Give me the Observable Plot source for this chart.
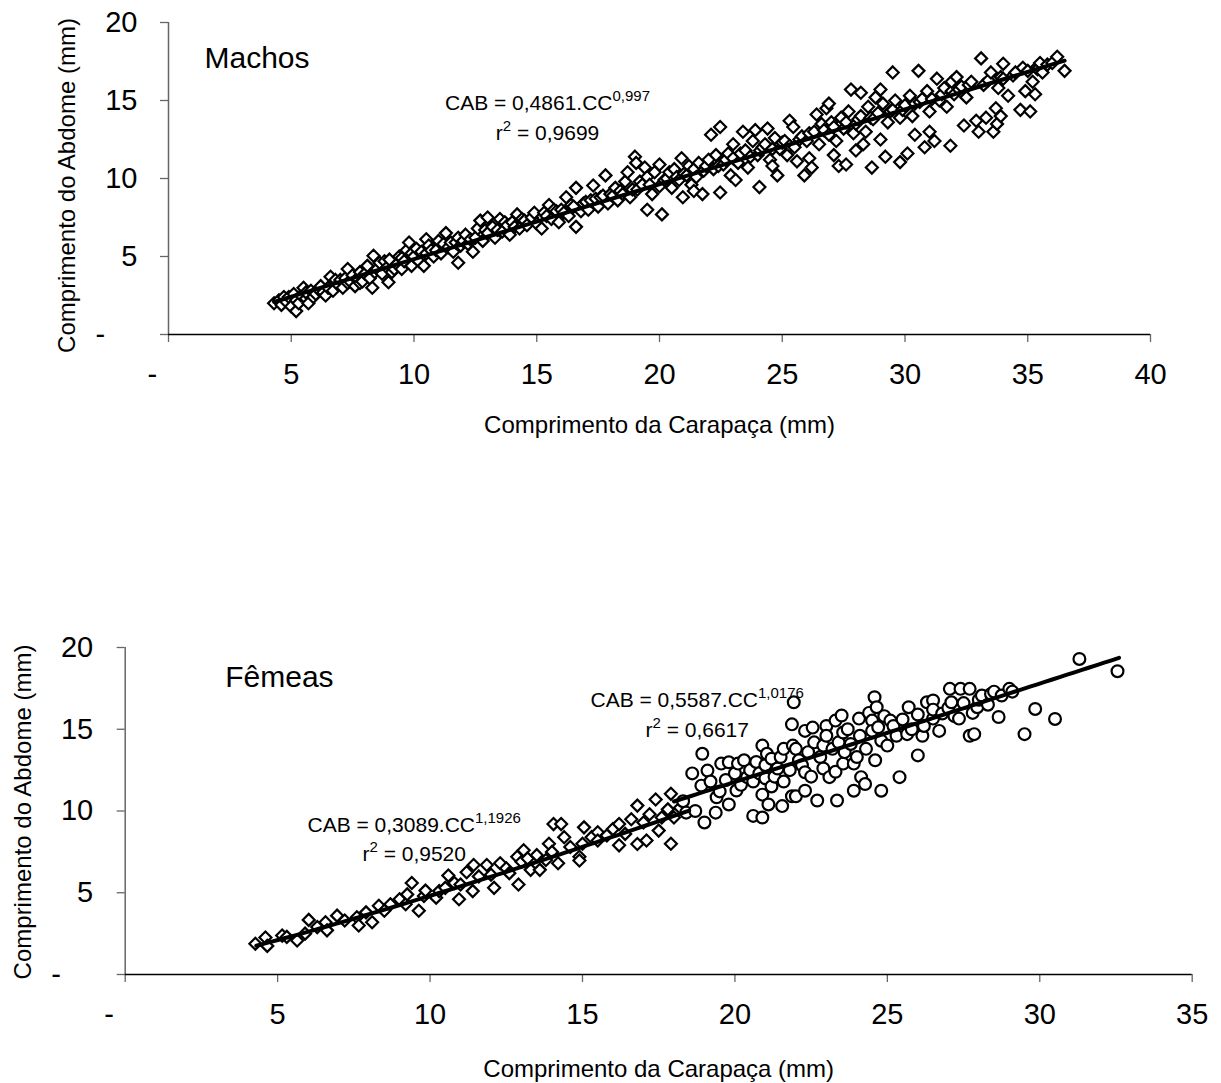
<!DOCTYPE html>
<html>
<head>
<meta charset="utf-8">
<script src="https://cdn.jsdelivr.net/npm/d3@7"></script>
<script src="https://cdn.jsdelivr.net/npm/@observablehq/plot@0.6"></script>
<style>
  html, body { margin: 0; padding: 0; background: #fff; }
  #machos, #femeas { display: block; line-height: 0; }
</style>
</head>
<body>
<div id="machos"></div>
<div id="femeas"></div>
<script>
// ---------- data (CC = comprimento da carapaça, CAB = comprimento do abdome), mm ----------
const machos = [
  [4.3,2.0],[4.5,2.2],[4.6,1.9],[4.7,2.4],[4.8,2.1],[4.9,2.4],[5.0,1.8],[5.1,2.6],[5.2,1.5],[5.2,2.2],[5.3,2.0],[5.4,2.5],[5.5,3.0],[5.6,2.3],[5.6,2.7],[5.7,2.0],[5.8,2.8],[5.9,2.4],[6.0,2.6],[6.1,2.9],[6.2,3.1],[6.3,2.7],[6.4,2.5],
  [6.5,3.0],[6.6,3.7],[6.7,2.8],[6.8,3.5],[6.9,3.2],[7.0,3.5],[7.1,3.0],[7.2,3.6],[7.3,4.2],[7.3,3.3],[7.4,3.4],[7.5,3.8],[7.6,3.1],[7.7,3.6],[7.8,4.0],[7.8,3.3],[7.9,3.4],[8.0,3.9],[8.1,4.4],
  [8.2,3.6],[8.3,3.0],[8.35,5.05],[8.4,4.0],[8.5,4.2],[8.6,4.6],[8.7,3.9],[8.8,4.7],[8.9,4.3],[8.96,3.35],[9.0,4.8],[9.1,4.0],[9.2,4.2],[9.3,4.5],[9.4,5.0],[9.5,4.2],[9.5,4.9],[9.6,4.7],[9.7,5.4],[9.8,5.9],[9.9,4.4],[9.9,5.2],[10.0,5.0],
  [10.1,5.5],[10.2,4.7],[10.3,5.3],[10.4,4.4],[10.5,6.1],[10.5,5.2],[10.6,5.7],[10.7,5.4],[10.8,5.0],[10.9,5.4],[11.0,6.0],[11.1,5.2],[11.2,5.8],[11.3,6.5],[11.4,5.6],[11.5,5.9],[11.6,5.3],[11.7,5.9],[11.8,4.6],[11.8,6.2],[11.9,5.7],[12.0,6.0],
  [12.1,6.4],[12.2,5.8],[12.3,6.1],[12.4,5.3],[12.5,6.2],[12.6,6.8],[12.7,7.3],[12.8,6.0],[12.9,6.7],[13.0,7.5],[13.0,6.5],[13.2,6.9],[13.3,6.2],[13.4,6.7],[13.5,7.4],[13.6,6.6],[13.7,7.2],[13.8,7.0],[13.9,6.4],[14.0,7.2],
  [14.1,6.9],[14.2,7.7],[14.3,6.8],[14.4,7.4],[14.5,7.3],[14.6,7.0],[14.8,7.5],[14.9,7.8],[15.0,7.1],[15.2,6.8],[15.3,7.8],[15.4,7.6],[15.5,8.3],[15.6,7.4],[15.7,8.0],[15.8,7.9],[15.9,7.2],[16.0,8.0],
  [16.1,7.8],[16.2,8.8],[16.3,7.6],[16.4,8.3],[16.5,8.2],[16.6,9.4],[16.6,6.9],[16.8,7.9],[16.9,8.4],[17.0,8.5],[17.1,8.0],[17.2,8.6],[17.3,9.55],[17.4,8.7],[17.5,8.2],[17.6,8.8],[17.7,8.9],[17.8,10.2],[17.9,8.4],[18.0,9.0],
  [18.1,8.9],[18.2,9.4],[18.3,8.6],[18.4,9.2],[18.5,9.0],[18.6,9.8],[18.7,10.4],[18.8,8.8],[18.9,9.3],[19.0,11.4],[19.05,11.0],[19.1,9.3],[19.2,9.8],[19.3,9.6],[19.4,10.7],[19.5,8.0],[19.5,10.1],[19.6,9.6],[19.7,9.0],[19.8,10.4],[20.0,10.9],[20.0,9.5],[20.1,7.7],
  [20.2,9.9],[20.3,10.0],[20.4,10.4],[20.5,9.4],[20.6,10.6],[20.7,10.1],[20.8,9.9],[20.9,11.3],[20.95,8.8],[21.0,10.3],[21.1,10.2],[21.2,10.8],[21.3,9.6],[21.4,10.6],[21.4,9.2],[21.5,10.1],[21.6,11.0],[21.75,9.0],[21.8,10.5],[21.9,10.8],[22.0,11.2],[22.1,12.8],[22.2,10.6],
  [22.3,11.5],[22.4,10.8],[22.47,13.3],[22.47,9.1],[22.6,10.9],[22.7,11.2],[22.8,11.6],[22.9,10.2],[23.0,12.2],[23.0,11.3],[23.1,9.9],[23.2,11.0],[23.3,11.6],[23.4,13.0],[23.5,11.8],[23.6,10.7],[23.7,11.4],[23.8,12.4],[23.9,13.1],[24.0,11.5],[24.07,9.45],[24.1,11.8],[24.2,12.0],
  [24.3,12.2],[24.4,13.2],[24.5,11.2],[24.6,11.9],[24.6,10.8],[24.7,12.6],[24.8,10.2],[24.9,11.9],[25.0,12.3],[25.1,12.4],[25.2,11.5],[25.3,12.1],[25.3,13.7],[25.45,13.3],[25.5,12.0],[25.6,11.1],[25.7,12.5],[25.8,12.7],[25.9,10.2],[26.0,12.4],
  [26.1,12.9],[26.1,11.3],[26.2,10.7],[26.3,13.0],[26.4,14.1],[26.5,12.2],[26.6,13.5],[26.7,13.1],[26.8,14.5],[26.9,12.8],[26.9,14.8],[27.0,13.6],[27.1,13.3],[27.1,11.5],[27.2,12.4],[27.3,10.8],[27.4,13.9],[27.5,13.2],[27.6,10.9],[27.6,13.6],[27.7,14.3],[27.8,15.7],[27.9,12.9],[28.0,11.8],[28.0,13.5],
  [28.1,13.8],[28.2,15.5],[28.2,14.0],[28.3,12.2],[28.4,13.0],[28.5,14.6],[28.6,13.9],[28.65,10.7],[28.7,13.8],[28.8,15.2],[28.9,14.2],[29.0,12.5],[29.0,15.7],[29.1,14.8],[29.2,11.4],[29.3,13.6],[29.4,14.3],[29.5,16.8],[29.5,14.4],[29.6,15.0],[29.8,11.05],[29.8,13.9],[29.9,14.4],[30.0,14.7],
  [30.1,11.6],[30.2,15.3],[30.3,14.0],[30.4,14.8],[30.4,12.8],[30.55,16.9],[30.6,14.9],[30.7,15.1],[30.8,12.0],[30.9,15.6],[31.0,14.3],[31.0,13.0],[31.1,15.1],[31.2,12.4],[31.3,16.4],[31.4,15.0],[31.5,15.4],[31.6,15.8],[31.7,14.6],[31.85,12.1],[31.9,15.6],[31.9,16.2],[32.0,15.4],[32.1,16.5],
  [32.2,15.7],[32.3,15.9],[32.4,13.4],[32.5,15.2],[32.6,16.0],[32.7,16.2],[32.9,13.7],[33.0,13.0],[33.1,17.7],[33.2,16.0],[33.3,13.9],[33.4,16.3],[33.5,16.8],[33.6,13.0],[33.7,14.5],[33.75,13.5],[33.8,15.8],[33.9,16.5],[33.9,14.0],[34.0,17.35],[34.0,16.4],
  [34.2,15.3],[34.4,16.6],[34.5,16.8],[34.7,14.4],[34.8,17.1],[34.9,15.6],[35.0,16.9],[35.1,14.3],[35.2,16.2],[35.3,15.4],[35.35,17.1],[35.4,17.0],[35.5,17.4],[35.6,16.8],[35.8,17.3],[36.0,17.4],[36.2,17.8],[36.5,16.9]
];

const femeasJovens = [
  [4.27,1.88],[4.6,2.26],[4.66,1.75],[5.15,2.38],[5.3,2.3],[5.64,2.08],[5.9,2.5],[6.02,3.34],[6.3,2.9],[6.57,3.2],[6.62,2.7],[6.95,3.6],[7.2,3.3],
  [7.6,3.5],[7.66,3.0],[7.9,3.8],[8.1,3.2],[8.32,4.2],[8.5,3.9],[8.7,4.3],[9.0,4.6],[9.2,4.3],[9.25,4.9],[9.4,5.6],[9.63,3.9],[9.8,4.8],[9.85,5.13],
  [10.2,4.7],[10.3,5.1],[10.5,5.3],[10.6,6.05],[10.8,5.6],[10.95,4.6],[11.0,5.5],[11.2,6.25],[11.4,5.1],[11.43,6.7],[11.6,6.0],[11.86,6.7],[12.0,6.1],
  [12.1,5.3],[12.3,6.8],[12.5,6.5],[12.6,6.2],[12.86,7.2],[12.9,5.5],[13.0,6.9],[13.07,7.6],[13.2,7.1],[13.3,6.4],[13.5,7.3],[13.6,6.4],[13.8,7.0],
  [13.9,8.0],[14.0,7.5],[14.05,9.2],[14.2,6.8],[14.3,9.2],[14.4,8.4],[14.6,7.8],[14.9,7.2],[14.9,6.97],[15.0,8.0],[15.05,9.0],[15.3,8.4],[15.5,8.7],
  [15.5,8.2],[15.8,8.5],[16.0,8.9],[16.2,7.9],[16.2,9.2],[16.4,8.6],[16.6,9.5],[16.8,10.33],[16.8,7.98],[17.0,9.3],[17.1,8.2],[17.2,9.8],[17.4,10.7],
  [17.5,8.8],[17.6,9.6],[17.8,10.1],[17.9,8.0],[17.9,11.05],[18.0,9.6],[18.2,10.2]
];

const femeasAdultas = [
  [18.3,10.6],[18.4,9.9],[18.6,12.3],[18.7,10.0],[18.9,11.55],[18.93,13.5],[19.0,9.3],[19.1,12.47],[19.2,11.8],[19.37,9.9],[19.4,10.84],[19.5,11.2],
  [19.55,12.9],[19.7,11.9],[19.8,12.98],[19.8,10.4],[20.0,12.3],[20.05,11.25],[20.1,12.9],[20.2,11.6],[20.3,13.1],[20.4,12.07],[20.5,12.5],
  [20.6,9.7],[20.6,11.8],[20.7,13.0],[20.8,12.3],[20.9,9.6],[20.9,14.0],[20.9,11.0],[21.0,12.8],[21.0,12.0],[21.05,13.5],[21.1,10.4],[21.2,13.2],
  [21.2,11.5],[21.3,12.1],[21.4,12.6],[21.5,13.3],[21.55,10.3],[21.6,13.8],[21.6,11.8],[21.8,12.5],[21.87,15.3],[21.87,10.9],[21.9,14.0],[21.93,16.65],
  [22.0,10.9],[22.0,13.8],[22.1,13.1],[22.2,12.8],[22.3,14.9],[22.3,11.24],[22.3,12.37],[22.4,13.6],[22.5,12.1],[22.55,15.1],[22.6,14.2],[22.7,10.64],
  [22.8,13.3],[22.9,14.0],[22.9,12.6],[23.0,15.2],[23.0,14.6],[23.1,12.07],[23.2,13.8],[23.3,15.53],[23.3,12.4],[23.35,10.64],[23.4,14.2],[23.5,15.84],
  [23.55,14.8],[23.55,12.9],[23.6,13.6],[23.7,15.0],[23.8,14.1],[23.9,12.9],[23.9,11.24],[24.0,13.3],[24.07,15.65],[24.1,14.6],[24.14,12.07],[24.27,11.65],
  [24.3,13.8],[24.4,16.0],[24.5,15.53],[24.5,14.9],[24.58,16.96],[24.6,13.1],[24.65,16.35],[24.7,15.12],[24.8,11.24],[24.8,14.3],[24.9,15.8],[25.0,14.0],
  [25.1,15.53],[25.2,15.2],[25.3,14.6],[25.4,12.07],[25.5,15.6],[25.65,14.7],[25.7,16.35],[25.8,15.0],[26.0,13.4],[26.0,15.9],[26.15,14.6],[26.2,15.2],
  [26.3,16.65],[26.5,16.76],[26.5,15.65],[26.5,16.2],[26.7,14.9],[26.8,15.96],[27.0,16.3],[27.05,17.47],[27.1,16.65],[27.2,15.8],[27.35,15.65],[27.4,17.47],
  [27.5,16.6],[27.7,17.47],[27.7,14.6],[27.8,16.0],[27.85,14.7],[27.95,16.35],[28.0,16.8],[28.1,17.06],[28.3,16.5],[28.4,17.16],[28.5,17.3],[28.65,15.75],
  [28.75,17.06],[29.0,17.47],[29.1,17.3],[29.5,14.7],[29.85,16.24],[30.5,15.63],[31.3,19.3],[32.55,18.55]
];

// Fitted power curves shown on the chart: CAB = a . CC^b, over the range of each group
const ajusteMachos = [0.4861, 0.997];   const faixaMachos = [4.3, 36.5];
const ajusteJovens = [0.3089, 1.1926];  const faixaJovens = [4.3, 18.5];
const ajusteAdultas = [0.5587, 1.0176]; const faixaAdultas = [18.0, 32.6];

const eqMachos  = "CAB = 0,4861.CC^{0,997}\nr^{2} = 0,9699";
const eqJovens  = "CAB = 0,3089.CC^{1,1926}\nr^{2} = 0,9520";
const eqAdultas = "CAB = 0,5587.CC^{1,0176}\nr^{2} = 0,6617";

const yTicks = [0, 5, 10, 15, 20];
const xTicksMachos = [0, 5, 10, 15, 20, 25, 30, 35, 40];
const xTicksFemeas = [0, 5, 10, 15, 20, 25, 30, 35];

const tituloX = "Comprimento da Carapaça (mm)";
const tituloY = "Comprimento do Abdome (mm)";

// ---------- helpers ----------
const FONT = "'Liberation Sans', Arial, Helvetica, sans-serif";
const fmt = d => d === 0 ? "-\u00a0\u00a0\u00a0\u00a0" : String(d);
function curve([a, b], [x0, x1]) {
  const n = 60, out = [];
  for (let i = 0; i <= n; i++) { const x = x0 + (x1 - x0) * i / n; out.push([x, a * Math.pow(x, b)]); }
  return out;
}
function applySup(svg) {
  svg.querySelectorAll("text, tspan").forEach(el => {
    if (el.children.length) return;
    const s = el.textContent;
    if (!s.includes("^{")) return;
    el.textContent = "";
    const re = /\^\{([^}]*)\}/g;
    let last = 0, m;
    while ((m = re.exec(s))) {
      if (m.index > last) el.appendChild(document.createTextNode(s.slice(last, m.index)));
      const t = document.createElementNS("http://www.w3.org/2000/svg", "tspan");
      t.setAttribute("baseline-shift", "9px");
      t.setAttribute("font-size", "15");
      t.textContent = m[1];
      el.appendChild(t);
      last = re.lastIndex;
    }
    if (last < s.length) el.appendChild(document.createTextNode(s.slice(last)));
  });
}
function axes(xTicks, padX, padY) {
  return [
    Plot.axisX({ticks: xTicks, tickFormat: fmt, tickSize: 8, tickPadding: padX, fontSize: 29, stroke: "#666", strokeWidth: 1.3, label: null}),
    Plot.axisY({ticks: yTicks, tickFormat: fmt, tickSize: 8, tickPadding: padY, fontSize: 29, stroke: "#666", strokeWidth: 1.3, label: null}),
    Plot.ruleX([0], {stroke: "#666", strokeWidth: 1.5}),
    Plot.ruleY([0], {stroke: "#000", strokeWidth: 1.3})
  ];
}
const diamante = {symbol: "diamond2", r: 5.4, stroke: "#000", strokeWidth: 2.2, fill: "#fff"};
const circulo = {symbol: "circle", r: 5.9, stroke: "#000", strokeWidth: 2.2, fill: "#fff"};

// ---------- Machos ----------
const plotMachos = Plot.plot({
  width: 1221, height: 620,
  marginLeft: 168, marginRight: 71, marginTop: 22, marginBottom: 286,
  style: {fontFamily: FONT, background: "#fff", color: "#000", overflow: "visible"},
  x: {domain: [0, 40]},
  y: {domain: [0, 20]},
  marks: [
    ...axes(xTicksMachos, 21, 23),
    Plot.dot(machos, {x: d => d[0], y: d => d[1], ...diamante}),
    Plot.line(curve(ajusteMachos, faixaMachos), {x: d => d[0], y: d => d[1], stroke: "#000", strokeWidth: 4}),
    Plot.text(["Machos"], {text: d => d, frameAnchor: "top-left", textAnchor: "start", lineAnchor: "middle", dx: 36, dy: 36, fontSize: 30}),
    Plot.text([eqMachos], {text: d => d, frameAnchor: "top-left", textAnchor: "middle", lineAnchor: "middle", dx: 379, dy: 93, fontSize: 21, lineHeight: 1.43}),
    Plot.text([tituloX], {text: d => d, frameAnchor: "bottom", textAnchor: "middle", lineAnchor: "middle", dy: 91, fontSize: 24}),
    Plot.text([tituloY], {text: d => d, frameAnchor: "left", textAnchor: "middle", lineAnchor: "middle", rotate: -90, dx: -101, dy: 7, fontSize: 24})
  ]
});
applySup(plotMachos);
document.getElementById("machos").appendChild(plotMachos);

// ---------- Fêmeas ----------
const plotFemeas = Plot.plot({
  width: 1221, height: 463,
  marginLeft: 124.7, marginRight: 29.3, marginTop: 27, marginBottom: 109,
  style: {fontFamily: FONT, background: "#fff", color: "#000", overflow: "visible"},
  x: {domain: [0, 35]},
  y: {domain: [0, 20]},
  marks: [
    ...axes(xTicksFemeas, 21, 24),
    Plot.dot(femeasJovens, {x: d => d[0], y: d => d[1], ...diamante}),
    Plot.dot(femeasAdultas, {x: d => d[0], y: d => d[1], ...circulo}),
    Plot.line(curve(ajusteJovens, faixaJovens), {x: d => d[0], y: d => d[1], stroke: "#000", strokeWidth: 4}),
    Plot.line(curve(ajusteAdultas, faixaAdultas), {x: d => d[0], y: d => d[1], stroke: "#000", strokeWidth: 4}),
    Plot.text(["Fêmeas"], {text: d => d, frameAnchor: "top-left", textAnchor: "start", lineAnchor: "middle", dx: 100, dy: 30, fontSize: 30}),
    Plot.text([eqJovens], {text: d => d, frameAnchor: "top-left", textAnchor: "middle", lineAnchor: "middle", dx: 289, dy: 190, fontSize: 21, lineHeight: 1.38}),
    Plot.text([eqAdultas], {text: d => d, frameAnchor: "top-left", textAnchor: "middle", lineAnchor: "middle", dx: 572, dy: 65, fontSize: 21, lineHeight: 1.43}),
    Plot.text([tituloX], {text: d => d, frameAnchor: "bottom", textAnchor: "middle", lineAnchor: "middle", dy: 95, fontSize: 24}),
    Plot.text([tituloY], {text: d => d, frameAnchor: "left", textAnchor: "middle", lineAnchor: "middle", rotate: -90, dx: -102, dy: 1, fontSize: 24})
  ]
});
applySup(plotFemeas);
document.getElementById("femeas").appendChild(plotFemeas);
</script>
</body>
</html>
